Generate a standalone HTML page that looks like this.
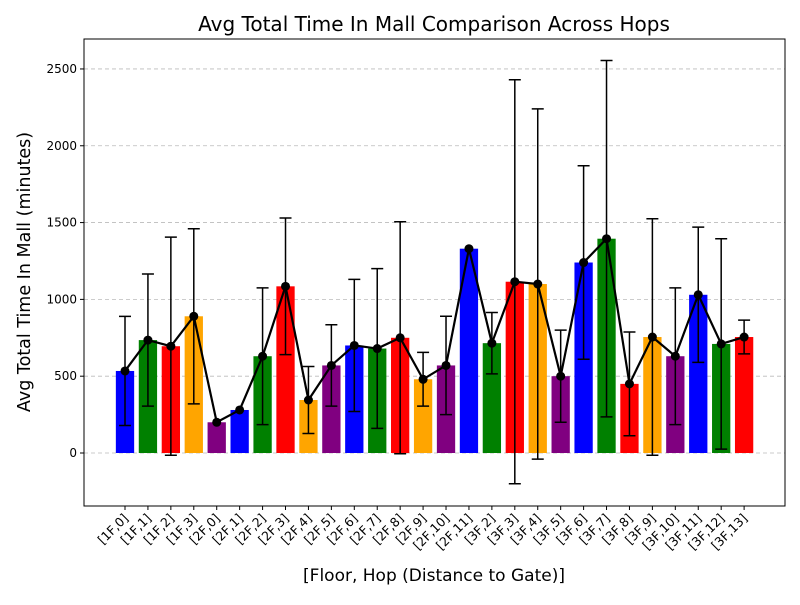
<!DOCTYPE html>
<html><head><meta charset="utf-8"><style>
body{margin:0;background:#fff;font-family:"Liberation Sans","DejaVu Sans",sans-serif}
</style></head><body>
<svg id="chart" width="800" height="600" xmlns="http://www.w3.org/2000/svg" font-family="DejaVu Sans, Liberation Sans, sans-serif">
<rect width="800" height="600" fill="#fff"/>
<text x="434" y="31" font-size="20" text-anchor="middle">Avg Total Time In Mall Comparison Across Hops</text>
<text x="434" y="581" font-size="17" text-anchor="middle">[Floor, Hop (Distance to Gate)]</text>
<text transform="translate(30,272) rotate(-90)" font-size="17.5" text-anchor="middle">Avg Total Time In Mall (minutes)</text>
<g id="grid"></g><g id="bars"></g><g id="errs"></g><g id="line"></g><g id="axes"></g>
</svg>
<script>
const categories=["[1F,0]","[1F,1]","[1F,2]","[1F,3]","[2F,0]","[2F,1]","[2F,2]","[2F,3]","[2F,4]","[2F,5]","[2F,6]","[2F,7]","[2F,8]","[2F,9]","[2F,10]","[2F,11]","[3F,2]","[3F,3]","[3F,4]","[3F,5]","[3F,6]","[3F,7]","[3F,8]","[3F,9]","[3F,10]","[3F,11]","[3F,12]","[3F,13]"];
const values=[534,735,695,890,200,280,630,1085,345,570,700,680,750,480,570,1330,715,1115,1100,500,1240,1395,450,755,630,1030,710,755];
const errors=[355,430,710,570,0,0,445,445,218,265,430,520,755,175,320,0,200,1315,1140,300,630,1160,338,770,445,440,685,110];
const yTicks=[0,500,1000,1500,2000,2500];
const colors=["blue","green","red","orange","purple"];
const NS="http://www.w3.org/2000/svg";
const L=84,R=785,T=39,B=506,yMin=-345,yMax=2695;
const y=v=>B-(v-yMin)/(yMax-yMin)*(B-T);
const x=i=>125+i*22.93;
function mk(tag,attrs,parent){const e=document.createElementNS(NS,tag);for(const k in attrs)e.setAttribute(k,attrs[k]);document.getElementById(parent).appendChild(e);return e;}
yTicks.forEach(t=>{
 const g=mk('line',{x1:L,x2:R,y1:y(t),y2:y(t),stroke:'#bbb','stroke-dasharray':'4,3','stroke-width':0.8},'grid');
 
 
 const tk=mk('line',{x1:L-4,x2:L,y1:y(t),y2:y(t),stroke:'#000'},'axes');
 
 
 const tx=mk('text',{x:L-7,y:y(t)+4,'font-size':12,'text-anchor':'end'},'axes');
 
 
 tx.textContent=t;
});
const bw=18.3;let pts=[];
categories.forEach((c,i)=>{
 const cx=x(i),v=values[i],e=errors[i];
 const b=mk('rect',{x:cx-bw/2,y:Math.min(y(v),y(0)),width:bw,height:Math.abs(y(0)-y(v)),fill:colors[i%5]},'bars');
 
 
 if(e>0){
  const eg=mk('path',{d:`M${cx},${y(v+e)}V${y(v-e)}M${cx-6},${y(v+e)}H${cx+6}M${cx-6},${y(v-e)}H${cx+6}`,stroke:'#000','stroke-width':1.5,fill:'none'},'errs');
  
  
 }
 pts.push(cx+','+y(v));
 const tk=mk('line',{x1:cx,x2:cx,y1:B,y2:B+4,stroke:'#000'},'axes');
 
 
 const tx=mk('text',{transform:`translate(${cx+4},${B+13}) rotate(-45)`,'font-size':12.5,'text-anchor':'end'},'axes');
 
 
 tx.textContent=c;
});
const pl=mk('polyline',{points:pts.join(' '),fill:'none',stroke:'#000','stroke-width':2.2},'line');


pts.forEach(p=>{const [px,py]=p.split(',');
 const d=mk('circle',{cx:px,cy:py,r:4.5,fill:'#000'},'line');
 
 
});
const fr=mk('rect',{x:L,y:T,width:R-L,height:B-T,fill:'none',stroke:'#000','stroke-width':1},'axes');


</script>
</body></html>
